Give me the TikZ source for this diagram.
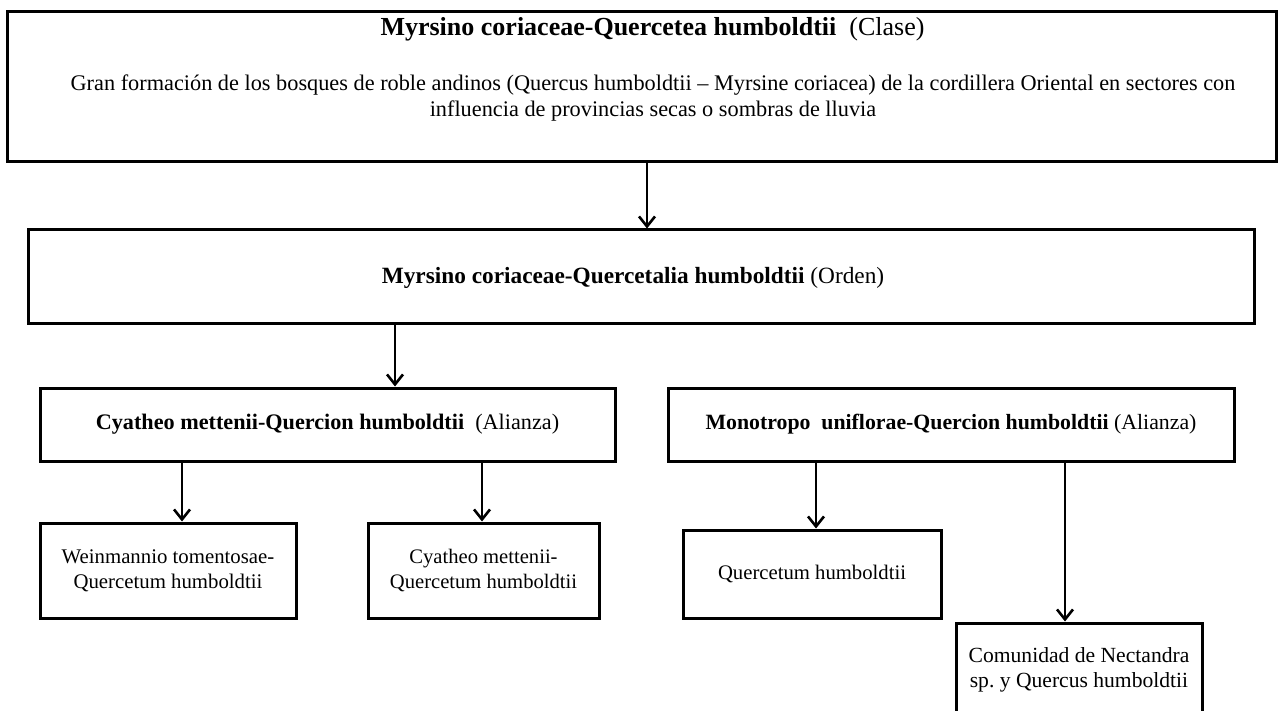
\documentclass[tikz,border=0pt]{standalone}
\usepackage{fontspec}
\setmainfont{Liberation Serif}
\usetikzlibrary{arrows.meta}
\newcommand{\fs}[1]{\fontsize{#1}{25}\selectfont}
\frenchspacing
\begin{document}
\begin{tikzpicture}[x=1pt,y=-1pt,
  box/.style={draw, line width=3pt, inner sep=0pt, align=center},
  lbl/.style={align=center, inner sep=0pt},
  arr/.style={-{Straight Barb[length=10pt,width=16pt,line width=2.6pt]}, line width=2.6pt}]
\useasboundingbox (0,0) rectangle (1285,711);
\fill[white] (0,0) rectangle (1285,711);

% Clase
\node[box, minimum width=1269pt, minimum height=150pt] (clase) at (641.5,87) {};
\node[lbl, font=\fs{26}] (clasetit) at (652.5,29) {\textbf{Myrsino coriaceae-Quercetea humboldtii}\ \ (Clase)};
\node[lbl, font={\fontsize{22.3}{25.5}\selectfont}] (clasedesc) at (653,98) {Gran formación de los bosques de roble andinos (Quercus humboldtii -- Myrsine coriacea) de la cordillera Oriental en sectores con\\
influencia de provincias secas o sombras de lluvia};

% Orden
\node[box, minimum width=1226pt, minimum height=94pt] (orden) at (641,277) {};
\node[lbl, font=\fs{23.3}] (ordentxt) at (633,278)
  {\textbf{Myrsino coriaceae-Quercetalia humboldtii} (Orden)};

% Alianzas
\node[box, minimum width=575pt, minimum height=73pt, font=\fs{22.2}] (cyatheo) at (327.5,424.5)
  {\textbf{Cyatheo mettenii-Quercion humboldtii}\ \ (Alianza)};
\node[box, minimum width=566pt, minimum height=73pt, font=\fs{21.8}] (monotropo) at (951,424.5)
  {\textbf{Monotropo\ \ uniflorae-Quercion humboldtii} (Alianza)};

% Asociaciones
\node[box, minimum width=256pt, minimum height=95pt, font=\fs{20.8}] (weinm) at (168,570.5)
  {Weinmannio tomentosae-\\Quercetum humboldtii};
\node[box, minimum width=231pt, minimum height=95pt, font=\fs{20.6}] (cymet) at (483.5,570.5)
  {Cyatheo mettenii-\\Quercetum humboldtii};
\node[box, minimum width=258pt, minimum height=88pt, font=\fs{20.7}] (quercetum) at (812,574)
  {Quercetum humboldtii};
\node[box, minimum width=246pt, minimum height=93pt, font=\fs{21.6}] (nectandra) at (1079,669.5)
  {Comunidad de Nectandra\\sp. y Quercus humboldtii};

% Connectors
\draw[arr] ([xshift=5.5pt]clase.south) -- ([xshift=5.5pt]clase.south |- orden.north);
\draw[arr] ([xshift=67.5pt]cyatheo.north |- orden.south) -- ([xshift=67.5pt]cyatheo.north);
\draw[arr] ([xshift=14pt]weinm.north |- cyatheo.south) -- ([xshift=14pt]weinm.north);
\draw[arr] ([xshift=-1.5pt]cymet.north |- cyatheo.south) -- ([xshift=-1.5pt]cymet.north);
\draw[arr] ([xshift=4pt]quercetum.north |- monotropo.south) -- ([xshift=4pt]quercetum.north);
\draw[arr] ([xshift=-14pt]nectandra.north |- monotropo.south) -- ([xshift=-14pt]nectandra.north);
\end{tikzpicture}
\end{document}
